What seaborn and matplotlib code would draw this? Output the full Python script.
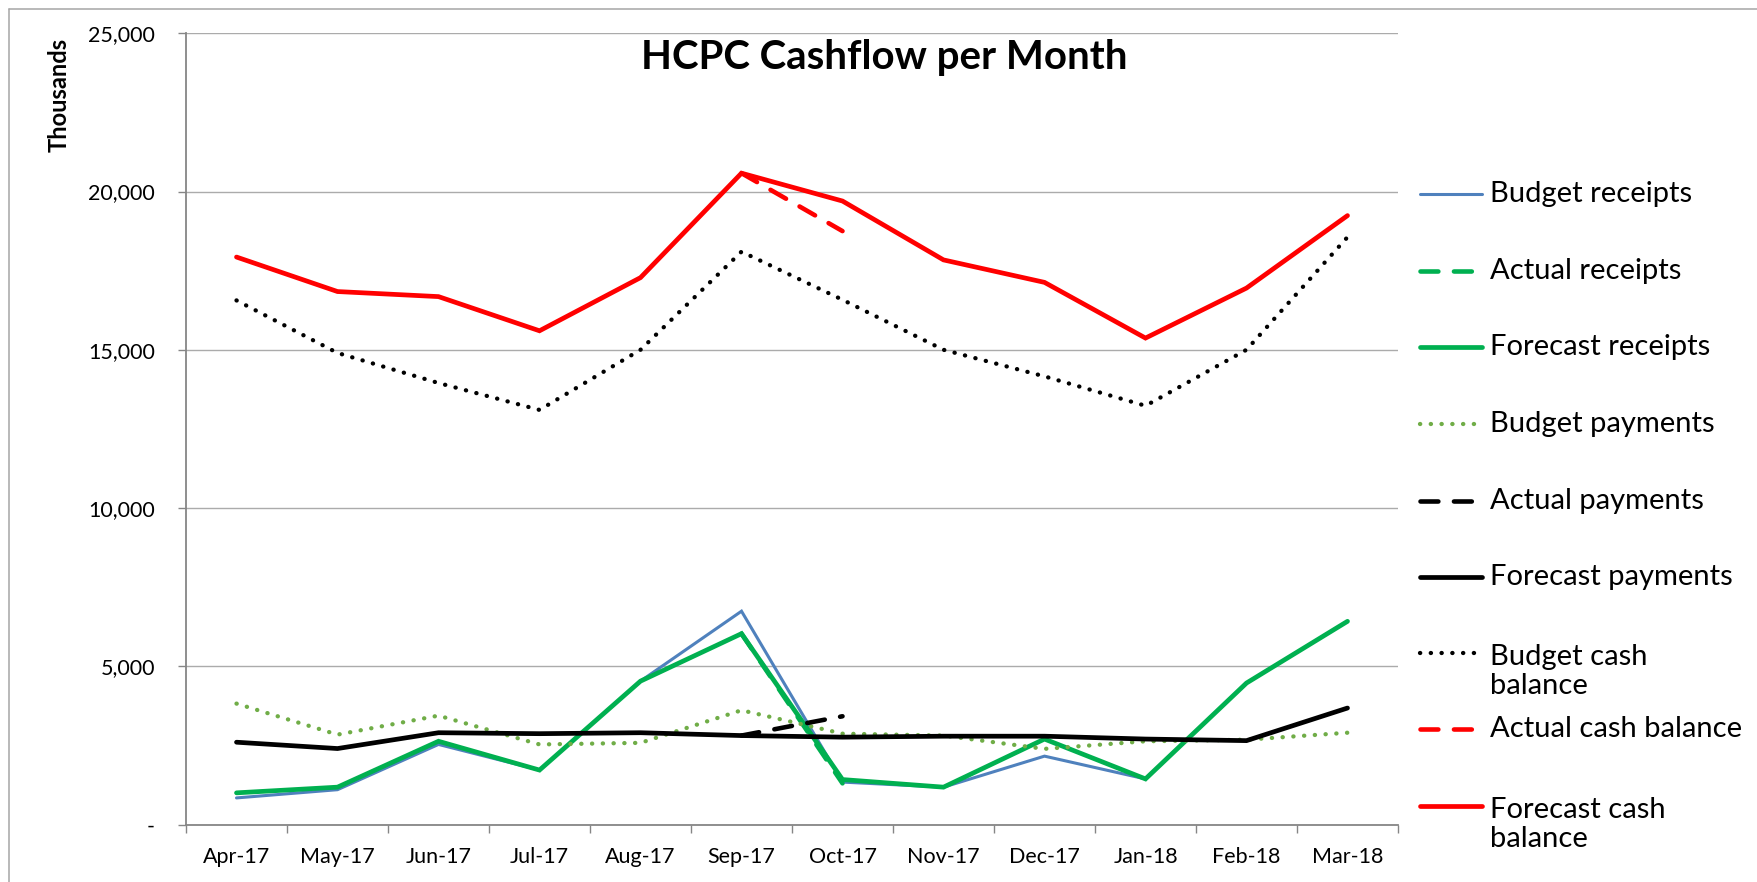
import numpy as np
import pandas as pd
import matplotlib
matplotlib.use("Agg")
import matplotlib.pyplot as plt
from matplotlib.lines import Line2D
import seaborn as sns

# ---------------- data ----------------
months = ['Apr-17', 'May-17', 'Jun-17', 'Jul-17', 'Aug-17', 'Sep-17',
          'Oct-17', 'Nov-17', 'Dec-17', 'Jan-18', 'Feb-18', 'Mar-18']
nan = np.nan
budget_receipts = [840, 1100, 2530, 1720, 4530, 6740, 1340, 1180, 2160, 1440, 4470, 6420]
actual_receipts = [nan, nan, nan, nan, nan, 6030, 1300, nan, nan, nan, nan, nan]
forecast_receipts = [1000, 1180, 2630, 1720, 4530, 6030, 1420, 1180, 2700, 1440, 4470, 6420]
budget_payments = [3820, 2840, 3440, 2530, 2580, 3610, 2870, 2810, 2390, 2630, 2680, 2900]
actual_payments = [nan, nan, nan, nan, nan, 2810, 3420, nan, nan, nan, nan, nan]
forecast_payments = [2600, 2400, 2900, 2870, 2900, 2810, 2760, 2790, 2790, 2700, 2650, 3680]
budget_cash = [16560, 14900, 13950, 13100, 15000, 18100, 16580, 15000, 14160, 13230, 15000, 18560]
actual_cash = [nan, nan, nan, nan, nan, 20580, 18750, nan, nan, nan, nan, nan]
forecast_cash = [17930, 16840, 16680, 15600, 17280, 20580, 19700, 17840, 17130, 15370, 16950, 19240]

series_names = ['Budget receipts', 'Actual receipts', 'Forecast receipts',
                'Budget payments', 'Actual payments', 'Forecast payments',
                'Budget cash\nbalance', 'Actual cash balance', 'Forecast cash\nbalance']
series_values = [budget_receipts, actual_receipts, forecast_receipts,
                 budget_payments, actual_payments, forecast_payments,
                 budget_cash, actual_cash, forecast_cash]

y_ticks = [0, 5000, 10000, 15000, 20000, 25000]
y_tick_labels = ['-', '5,000', '10,000', '15,000', '20,000', '25,000']

# ---------------- styles ----------------
BLUE = '#4F81BD'
GREEN = '#00B050'
LGREEN = '#70AD47'
RED = '#FF0000'
BLACK = '#000000'
dot = (0, (0.05, 2.45))
dash = (0, (3.9, 3.4))
styles = [
    dict(color=BLUE, lw=2.2, ls='-'),
    dict(color=GREEN, lw=3.3, ls=dash),
    dict(color=GREEN, lw=3.4, ls='-'),
    dict(color=LGREEN, lw=3.1, ls=dot),
    dict(color=BLACK, lw=3.3, ls=dash),
    dict(color=BLACK, lw=3.4, ls='-'),
    dict(color=BLACK, lw=3.1, ls=dot),
    dict(color=RED, lw=3.3, ls=dash),
    dict(color=RED, lw=3.4, ls='-'),
]

sns.set_theme(style='white')
plt.rcParams['font.family'] = ['Lato', 'DejaVu Sans']

W, H = 1758, 882
fig = plt.figure(figsize=(W / 100, H / 100), dpi=100)
fig.patch.set_facecolor('white')

ax_l, ax_r, ax_t, ax_b = 186, 1398, 33.3, 824.5
ax = fig.add_axes([ax_l / W, 1 - ax_b / H, (ax_r - ax_l) / W, (ax_b - ax_t) / H])
ax.set_facecolor('white')

x_pos = np.arange(len(months))
for name, vals, st in zip(series_names, series_values, styles):
    df = pd.DataFrame({'x': x_pos, 'y': vals}).dropna()
    sns.lineplot(data=df, x='x', y='y', ax=ax, color=st['color'], linewidth=st['lw'],
                 linestyle=st['ls'], legend=False)
    ln = ax.lines[-1]
    ln.set_dash_capstyle('round')
    ln.set_solid_capstyle('round')
    ln.set_solid_joinstyle('miter')

ax.set_xlim(-0.5, len(months) - 0.5)
ax.set_ylim(0, 25000)
ax.set_yticks(y_ticks)
ax.set_yticklabels(y_tick_labels)
ax.set_xticks(x_pos)
ax.set_xticklabels(months)
ax.set_xticks(np.arange(-0.5, len(months)), minor=True)
ax.set_xlabel('')
ax.set_ylabel('')

SPINE = '#868686'
GRID = '#ABABAB'
for s in ['top', 'right']:
    ax.spines[s].set_visible(False)
for s in ['left', 'bottom']:
    ax.spines[s].set_color(SPINE)
    ax.spines[s].set_linewidth(1.3)
ax.yaxis.grid(True, color=GRID, linewidth=1.0)
ax.xaxis.grid(False)
ax.set_axisbelow(True)

ax.tick_params(axis='y', which='major', left=True, length=5.8, width=1.0, color=SPINE,
               pad=16.5, labelsize=15.5, labelcolor='black')
ax.tick_params(axis='x', which='major', bottom=True, length=0, pad=16.5,
               labelsize=15.5, labelcolor='black')
ax.tick_params(axis='x', which='minor', bottom=True, length=5.8, width=1.0, color=SPINE)

# title and axis title
fig.text(884 / W, 1 - 58 / H, 'HCPC Cashflow per Month', ha='center', va='center',
         fontsize=29, fontweight='bold', color='black')
fig.text(59 / W, 1 - 95 / H, 'Thousands', rotation=90, ha='center', va='center',
         fontsize=17, fontweight='bold', color='black')

# legend (drawn at the right, Excel style)
row_y = [194, 271, 347, 424, 501, 577, 653, 729, 806]
for name, st, ry in zip(series_names, styles, row_y):
    ln = Line2D([1420 / W, 1482 / W], [1 - ry / H, 1 - ry / H], transform=fig.transFigure,
                color=st['color'], linewidth=st['lw'], linestyle=st['ls'])
    ln.set_dash_capstyle('round')
    ln.set_solid_capstyle('round')
    fig.add_artist(ln)
    nlines = name.count('\n') + 1
    yc = ry + (nlines - 1) * 37 / 2
    fig.text(1490 / W, 1 - yc / H, name, ha='left', va='center', fontsize=21,
             linespacing=1.15, color='black')

# outer chart border
bc = '#A6A6A6'
fig.add_artist(Line2D([8.5 / W, 8.5 / W], [0, 1 - 8.5 / H], transform=fig.transFigure,
                      color=bc, linewidth=1.1))
fig.add_artist(Line2D([8.5 / W, 1], [1 - 8.5 / H, 1 - 8.5 / H], transform=fig.transFigure,
                      color=bc, linewidth=1.1))

fig.savefig('out.png', dpi=100, facecolor='white')
